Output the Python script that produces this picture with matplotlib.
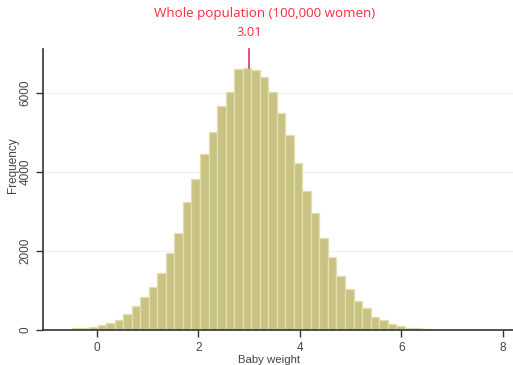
import numpy as np
import matplotlib
matplotlib.use("Agg")
import matplotlib.pyplot as plt

# histogram of baby weights, counts
bin_start = -0.485
bin_width = 0.168
counts = [40, 40, 70, 115, 168, 250, 392, 612, 830, 1083,
          1447, 1950, 2455, 3233, 3815, 4458, 4997, 5662, 6022, 6583,
          6608, 6558, 6388, 6001, 5495, 4939, 4210, 3512, 2960, 2333,
          1842, 1361, 1025, 725, 552, 338, 256, 150, 90, 55,
          38, 30]
mean_value = 3.01
title = "Whole population (100,000 women)"
x_ticks = [0, 2, 4, 6, 8]
y_ticks = [0, 2000, 4000, 6000]

lefts = bin_start + bin_width * np.arange(len(counts))

fig = plt.figure(figsize=(5.13, 3.65), dpi=100)
ax = fig.add_axes([43 / 513, 1 - 330 / 365, 470 / 513, 281 / 365])

ax.bar(lefts, counts, width=bin_width, align="edge",
       color="#c9c383", edgecolor="#e2dead", linewidth=0.9, zorder=2)

ax.set_xlim(-1.057, 8.2)
ax.set_ylim(0, 7100)
ax.set_xticks(x_ticks)
ax.set_yticks(y_ticks)
ax.grid(axis="y", color="#edf3f4", linewidth=1, zorder=0)

for side in ["top", "right"]:
    ax.spines[side].set_visible(False)
for side in ["left", "bottom"]:
    ax.spines[side].set_color("#333333")
    ax.spines[side].set_linewidth(1.2)

ax.tick_params(direction="out", length=5, width=1, color="#333333",
               labelsize=8.5, labelcolor="#444444")
for lab in ax.get_yticklabels():
    lab.set_rotation(90)
    lab.set_va("center")
    lab.set_fontfamily("Liberation Sans")
for lab in ax.get_xticklabels():
    lab.set_fontfamily("Liberation Sans")

ax.set_ylabel("Frequency", fontsize=8.5, color="#444444", family="Liberation Sans")
ax.yaxis.set_label_coords(-0.052, 0.587)
ax.set_xlabel("Baby weight", fontsize=8.2, color="#444444", family="Liberation Sans")
ax.xaxis.set_label_coords(0.481, -0.088)

# mean marker
ax.plot([mean_value, mean_value], [max(counts), 7100], color="#e0336a",
        linewidth=1.2, clip_on=False, zorder=3)
ax.text(mean_value, 7100 + 250, f"{mean_value:.2f}", ha="center", va="bottom",
        color="#ff2b3a", fontsize=9.3, family="Open Sans")

fig.text(265 / 513, 1 - 14 / 365, title, ha="center", va="center",
         color="#ff2b3a", fontsize=9.6, family="Open Sans")

fig.savefig("out.png", dpi=100)
